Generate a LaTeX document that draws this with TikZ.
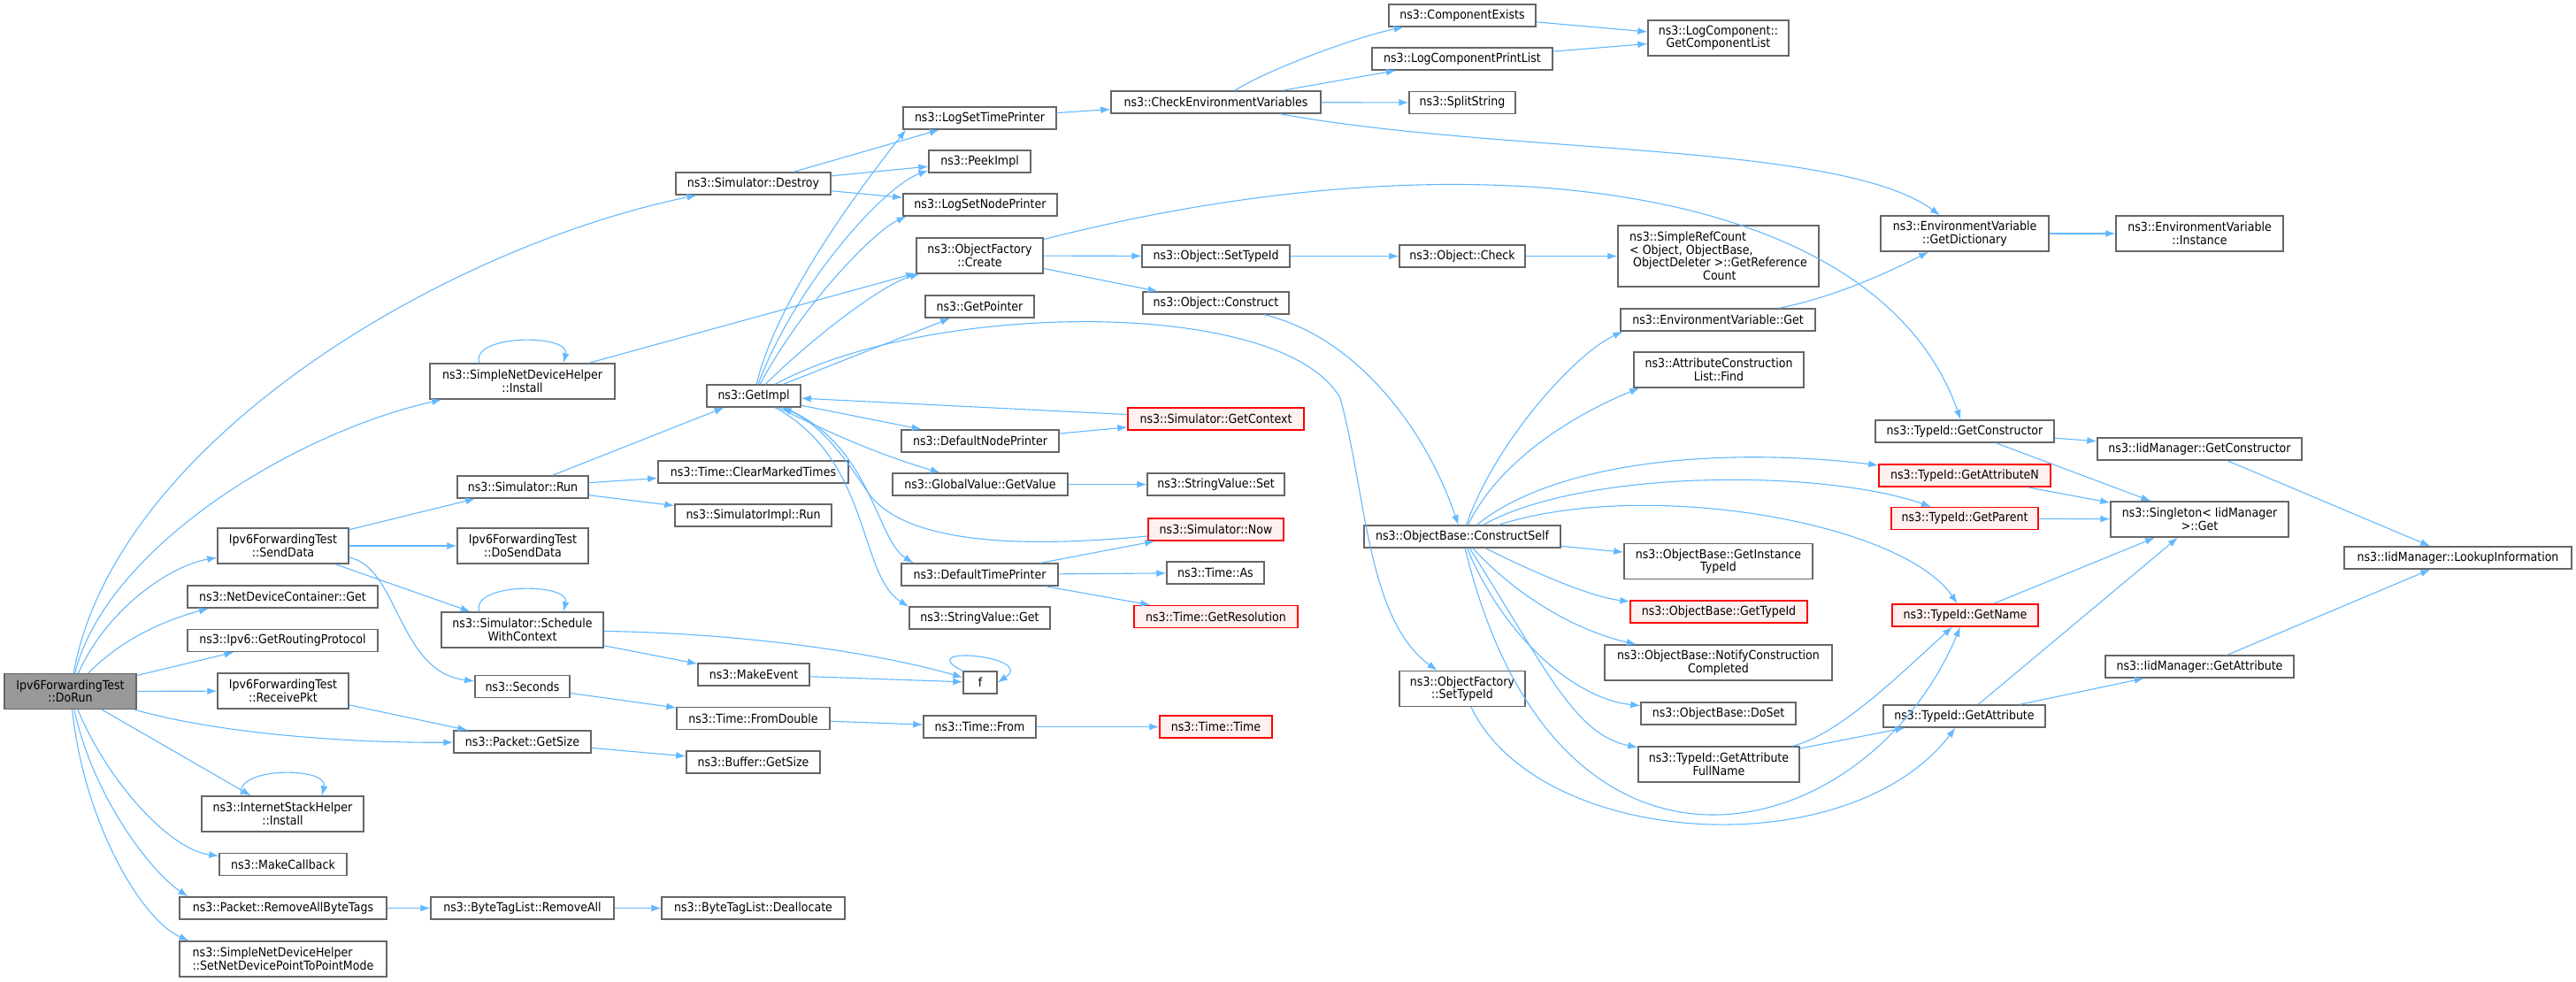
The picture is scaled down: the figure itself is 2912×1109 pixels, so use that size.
\documentclass[tikz,border=0pt]{standalone}
\usepackage{fontspec}
\setmainfont{DejaVu Sans}[FakeStretch=0.9]
\usepackage{xcolor}
\usepackage{tikz}
\usetikzlibrary{
    arrows.meta % For the filled call arrows
}
\definecolor{edgeblue}{HTML}{63B8FF}
\definecolor{boxgray}{HTML}{666666}
\definecolor{rootgray}{HTML}{999999}
\definecolor{redfill}{HTML}{FFF0F0}
\tikzset{
    fn/.style={draw=boxgray, fill=white, line width=1.4pt, inner sep=0pt,
        minimum width=#1, minimum height=25pt, align=center,
        font=\fontsize{14}{14.5}\selectfont},
    fnred/.style={fn=#1, draw=red, fill=redfill},
    fnroot/.style={fn=#1, fill=rootgray},
    two/.style={minimum height=40pt},
    call/.style={->, draw=edgeblue, line width=1.1pt},
    >={Latex[length=11pt,width=8pt]}
}

\begin{document}
\begin{tikzpicture}[x=1pt,y=-1pt]
        \useasboundingbox (0,0) rectangle (2912,1109);

        \draw (79.5,781.5) node[fnroot=149,two](dorun){Ipv6ForwardingTest\\::DoRun};

        \draw (320,617) node[fn=148,two](senddata){Ipv6ForwardingTest\\::SendData};
        \draw (319.5,674.5) node[fn=215](ndcget){ns3::NetDeviceContainer::Get};
        \draw (319.5,724) node[fn=215](routing){ns3::Ipv6::GetRoutingProtocol};
        \draw (320,781) node[fn=148,two](recv){Ipv6ForwardingTest\\::ReceivePkt};
        \draw (319.5,920) node[fn=183,two](ishinst){ns3::InternetStackHelper\\::Install};
        \draw (320,977) node[fn=144](makecb){ns3::MakeCallback};
        \draw (320,1026.5) node[fn=234](rmtags){ns3::Packet::RemoveAllByteTags};
        \draw (320,1084) node[fn=234,two,align=left](p2p){ns3::SimpleNetDeviceHelper\\::SetNetDevicePointToPointMode};

        \draw (590.5,431) node[fn=209,two](sinst){ns3::SimpleNetDeviceHelper\\::Install};
        \draw (591,550.5) node[fn=148](run){ns3::Simulator::Run};
        \draw (591,617) node[fn=148,two](dosend){Ipv6ForwardingTest\\::DoSendData};
        \draw (590.5,712) node[fn=183,two](swc){ns3::Simulator::Schedule\\WithContext};
        \draw (590.5,776) node[fn=107](seconds){ns3::Seconds};
        \draw (590.5,838.5) node[fn=155](getsize){ns3::Packet::GetSize};
        \draw (590.5,1026.5) node[fn=207](rmall){ns3::ByteTagList::RemoveAll};

        \draw (851.5,207.5) node[fn=175](destroy){ns3::Simulator::Destroy};
        \draw (852,447.5) node[fn=106](getimpl){ns3::GetImpl};
        \draw (851.5,533.5) node[fn=215](clear){ns3::Time::ClearMarkedTimes};
        \draw (851.5,582.5) node[fn=177](simrun){ns3::SimulatorImpl::Run};
        \draw (852,762.5) node[fn=126](mkevent){ns3::MakeEvent};
        \draw (851.5,812) node[fn=173](fromdbl){ns3::Time::FromDouble};
        \draw (851.5,861.5) node[fn=151](bufsize){ns3::Buffer::GetSize};
        \draw (851.5,1026.5) node[fn=207](dealloc){ns3::ByteTagList::Deallocate};

        \draw (1107.5,133.5) node[fn=173](lstp){ns3::LogSetTimePrinter};
        \draw (1107.5,182.5) node[fn=115](peek){ns3::PeekImpl};
        \draw (1108,231.5) node[fn=174](lsnp){ns3::LogSetNodePrinter};
        \draw (1107.5,289) node[fn=143,two](create){ns3::ObjectFactory\\::Create};
        \draw (1107.5,346.5) node[fn=123](getptr){ns3::GetPointer};
        \draw (1108,498.5) node[fn=178](dnp){ns3::DefaultNodePrinter};
        \draw (1108,547.5) node[fn=198](gvget){ns3::GlobalValue::GetValue};
        \draw (1107.5,649.5) node[fn=177](dtp){ns3::DefaultTimePrinter};
        \draw (1107.5,698.5) node[fn=159](svget){ns3::StringValue::Get};
        \draw (1108,771.5) node[fn=38](f){f};
        \draw (1107.5,821.5) node[fn=127](tfrom){ns3::Time::From};

        \draw (1374.5,115.5) node[fn=237](checkenv){ns3::CheckEnvironmentVariables};
        \draw (1374.5,289.5) node[fn=167](osettid){ns3::Object::SetTypeId};
        \draw (1374.5,342.5) node[fn=165](oconstr){ns3::Object::Construct};
        \draw (1374.5,473.5) node[fnred=199](getctx){ns3::Simulator::GetContext};
        \draw (1374.5,547.5) node[fn=155](svset){ns3::StringValue::Set};
        \draw (1374.5,598.5) node[fnred=153](now){ns3::Simulator::Now};
        \draw (1374,647.5) node[fn=110](tas){ns3::Time::As};
        \draw (1374.5,697) node[fnred=185](getres){ns3::Time::GetResolution};
        \draw (1374.5,821.5) node[fnred=127](ttime){ns3::Time::Time};

        \draw (1653,17.5) node[fn=166](compex){ns3::ComponentExists};
        \draw (1653,66.5) node[fn=204](lcpl){ns3::LogComponentPrintList};
        \draw (1653,116) node[fn=120](split){ns3::SplitString};
        \draw (1653,289.5) node[fn=142](ocheck){ns3::Object::Check};
        \draw (1653,606.5) node[fn=222](cself){ns3::ObjectBase::ConstructSelf};
        \draw (1653,778.5) node[fn=142,two](ofsettid){ns3::ObjectFactory\\::SetTypeId};

        \draw (1942.5,43) node[fn=159,two](gcl){ns3::LogComponent::\\GetComponentList};
        \draw (1942.5,289.5) node[fn=227,minimum height=69,align=left](refcnt){ns3::SimpleRefCount\\< Object, ObjectBase,\\\hspace*{4pt}ObjectDeleter >::GetReference\\\hspace*{83pt}Count};
        \draw (1942,361.5) node[fn=220](envget){ns3::EnvironmentVariable::Get};
        \draw (1943,418) node[fn=192,two](find){ns3::AttributeConstruction\\List::Find};
        \draw (1942.5,634.5) node[fn=213,two](instid){ns3::ObjectBase::GetInstance\\TypeId};
        \draw (1943,691.5) node[fnred=200](obgettid){ns3::ObjectBase::GetTypeId};
        \draw (1942.5,749) node[fn=257,two](notify){ns3::ObjectBase::NotifyConstruction\\Completed};
        \draw (1942.5,806.5) node[fn=175](doset){ns3::ObjectBase::DoSet};
        \draw (1943,864) node[fn=182,two](fullname){ns3::TypeId::GetAttribute\\FullName};

        \draw (2221,264) node[fn=190,two](dict){ns3::EnvironmentVariable\\::GetDictionary};
        \draw (2221,487.5) node[fn=202](getcons){ns3::TypeId::GetConstructor};
        \draw (2221,537.5) node[fnred=194](getattrn){ns3::TypeId::GetAttributeN};
        \draw (2221,586) node[fnred=166](getparent){ns3::TypeId::GetParent};
        \draw (2221.5,695.5) node[fnred=165](getname){ns3::TypeId::GetName};
        \draw (2220.5,809.5) node[fn=183](getattr){ns3::TypeId::GetAttribute};

        \draw (2486.5,264) node[fn=189,two](inst){ns3::EnvironmentVariable\\::Instance};
        \draw (2486.5,507.5) node[fn=231](iidcons){ns3::IidManager::GetConstructor};
        \draw (2486.5,587) node[fn=201,two](single){ns3::Singleton< IidManager\\ >::Get};
        \draw (2486.5,753.5) node[fn=213](iidattr){ns3::IidManager::GetAttribute};

        \draw (2778.5,630.5) node[fn=257](lookup){ns3::IidManager::LookupInformation};

        % calls out of DoRun
        \draw[call] (dorun) .. controls (130,500) and (500,280) .. (destroy);
        \draw[call] (dorun) .. controls (120,620) and (330,490) .. (sinst);
        \draw[call] (dorun) .. controls (120,690) and (190,640) .. (senddata);
        \draw[call] (dorun) .. controls (140,720) and (190,700) .. (ndcget.189);
        \draw[call] (dorun) to (routing);
        \draw[call] (dorun) to (recv);
        \draw[call] (dorun) .. controls (250,830) and (400,840) .. (getsize);
        \draw[call] (dorun) to (ishinst);
        \draw[call] (dorun) .. controls (120,880) and (190,960) .. (makecb);
        \draw[call] (dorun) .. controls (105,900) and (170,985) .. (rmtags.173);
        \draw[call] (dorun) .. controls (95,930) and (160,1040) .. (p2p.169);

        \draw[call] (senddata) to (run);
        \draw[call] (senddata) to (dosend);
        \draw[call] (senddata) to (swc);
        \draw[call] (senddata) .. controls (450,640) and (450,760) .. (seconds);
        \draw[call] (recv) to (getsize);

        \draw[call] (sinst.157) .. controls +(-10,-33) and +(8,-33) .. (sinst.24);
        \draw[call] (ishinst.156) .. controls +(-10,-33) and +(8,-33) .. (ishinst.25);
        \draw[call] (swc.157) .. controls +(-10,-33) and +(8,-33) .. (swc.24);
        \draw[call] (sinst) to (create);

        \draw[call] (run) to (getimpl);
        \draw[call] (run) to (clear);
        \draw[call] (run) to (simrun);
        \draw[call] (swc) .. controls (850,716) and (1000,740) .. (f);
        \draw[call] (swc) to (mkevent);
        \draw[call] (seconds) to (fromdbl);
        \draw[call] (getsize) to (bufsize);
        \draw[call] (rmtags) to (rmall);
        \draw[call] (rmall) to (dealloc);

        \draw[call] (destroy) to (lstp);
        \draw[call] (destroy) to (peek);
        \draw[call] (destroy) to (lsnp);

        % GetImpl and its neighbours
        \draw[call] (getimpl) .. controls (880,330) and (990,190) .. (lstp.189);
        \draw[call] (getimpl) .. controls (900,320) and (1000,210) .. (peek.190);
        \draw[call] (getimpl) .. controls (910,340) and (990,260) .. (lsnp.189);
        \draw[call] (getimpl) .. controls (920,380) and (1000,320) .. (create.197);
        \draw[call] (getimpl) to (getptr);
        \draw[call] (getimpl) .. controls (1050,340) and (1450,335) .. (1515,450)
            .. controls (1545,560) and (1545,700) .. (ofsettid);
        \draw[call] (getimpl) to (dnp);
        \draw[call] (getimpl) .. controls (920,480) and (980,510) .. (gvget);
        \draw[call] (getimpl) .. controls (985,500) and (990,610) .. (dtp.170);
        \draw[call] (getimpl) .. controls (985,520) and (970,650) .. (svget.171);
        \draw[call] (getctx) to (getimpl);
        \draw[call] (now) .. controls (1100,625) and (1010,600) .. (980,555)
            .. controls (960,525) and (930,480) .. (getimpl);
        \draw[call] (dnp) to (getctx);
        \draw[call] (gvget) to (svset);
        \draw[call] (dtp) to (now);
        \draw[call] (dtp) to (tas);
        \draw[call] (dtp) to (getres);
        \draw[call] (mkevent) to (f);
        \draw[call] (f.north west) .. controls +(-60,-30) and +(45,-30) .. (f.east);
        \draw[call] (fromdbl) to (tfrom);
        \draw[call] (tfrom) to (ttime);

        \draw[call] (lstp) to (checkenv);
        \draw[call] (create) to (osettid);
        \draw[call] (create) to (oconstr);
        \draw[call] (create) .. controls (1650,150) and (2120,200) .. (getcons);
        \draw[call] (osettid) to (ocheck);
        \draw[call] (ocheck) to (refcnt);
        \draw[call] (oconstr) .. controls (1530,380) and (1610,480) .. (cself);

        \draw[call] (checkenv) .. controls (1440,75) and (1540,40) .. (compex);
        \draw[call] (checkenv) to (lcpl);
        \draw[call] (checkenv) to (split);
        \draw[call] (checkenv) .. controls (1700,175) and (2080,160) .. (dict);
        \draw[call] (compex) to (gcl);
        \draw[call] (lcpl) to (gcl);
        \draw[call] (dict) to (inst);
        \draw[call] (envget) .. controls (2080,335) and (2150,300) .. (dict);

        % ConstructSelf fan
        \draw[call] (cself) .. controls (1690,500) and (1780,400) .. (envget.187);
        \draw[call] (cself) .. controls (1700,510) and (1800,460) .. (find.193);
        \draw[call] (cself) .. controls (1760,520) and (1950,505) .. (getattrn);
        \draw[call] (cself) .. controls (1790,530) and (2060,530) .. (getparent);
        \draw[call] (cself) .. controls (1860,540) and (2150,590) .. (getname);
        \draw[call] (cself) to (instid);
        \draw[call] (cself) .. controls (1740,650) and (1800,675) .. (obgettid);
        \draw[call] (cself) .. controls (1720,680) and (1790,715) .. (notify);
        \draw[call] (cself) .. controls (1700,720) and (1780,790) .. (doset);
        \draw[call] (cself) .. controls (1750,760) and (1780,830) .. (fullname);
        \draw[call] (cself) .. controls (1760,1050) and (2110,960) .. (getname);
        \draw[call] (fullname) .. controls (2080,830) and (2150,760) .. (getname);
        \draw[call] (fullname) to (getattr);
        \draw[call] (ofsettid) .. controls (1740,960) and (2090,980) .. (getattr);

        \draw[call] (getattr) to (single);
        \draw[call] (getattr) to (iidattr);
        \draw[call] (iidattr) to (lookup);
        \draw[call] (getname) to (single);
        \draw[call] (getparent) to (single);
        \draw[call] (getattrn) to (single);
        \draw[call] (getcons) to (iidcons);
        \draw[call] (getcons) to (single);
        \draw[call] (iidcons) to (lookup);
    \end{tikzpicture}
\end{document}
